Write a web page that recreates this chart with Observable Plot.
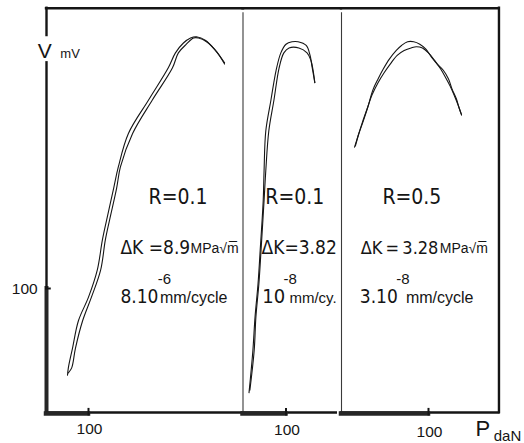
<!DOCTYPE html>
<html>
<head>
<meta charset="utf-8">
<script src="https://cdn.jsdelivr.net/npm/d3@7"></script>
<script src="https://cdn.jsdelivr.net/npm/@observablehq/plot@0.6"></script>
<style>
  html, body { margin: 0; padding: 0; background: #fff; }
  #chart { position: relative; width: 524px; height: 443px; overflow: hidden; background: #fff; }
  #chart svg { position: absolute; left: 0; top: 0; }
</style>
</head>
<body>
<div id="chart"></div>
<script>
// ---------- texts ----------
const rValues = ["R=0.1", "R=0.1", "R=0.5"];
const deltaK = ["ΔK =8.9", "ΔK=3.82", "ΔK\u2009=\u20093.28"];
const kUnit = "MPa√m̅";
const rateMantissa = ["8.10", "10", "3.10"];
const rateExponent = ["-6", "-8", "-8"];
const rateUnit = ["mm/cycle", "mm/cy.", "mm/cycle"];
const xTicks = [100];      // daN
const yTicks = [100];      // mV
const xLabel = "P", xUnit = "daN";
const yLabel = "V", yUnit = "mV";

// ---------- curves: [P (daN), V (mV)] ----------
const p1Loading = [[50,30],[52,36],[62,52],[76,74],[100,93],[121,115],[133,139],[143,155],[160,181],[171,198],[195,225],[243,252],[290,278],[307,290],[326,298],[343,302],[357,303],[379,300],[402,292],[424,282]];
const p1Unloading = [[52,32],[60,36],[69,52],[86,74],[107,93],[129,115],[140,139],[150,155],[167,181],[176,198],[205,225],[252,252],[300,278],[314,290],[333,297],[350,302],[362,302],[381,299],[405,291],[424,281]];

const p2Loading = [[14,16],[23,50],[28,77],[35,104],[40,131],[47,171],[49,195],[53,227],[65,252],[77,276],[88,290],[100,297],[114,299],[128,299],[147,296],[156,288],[160,280],[167,266]];
const p2Unloading = [[16,18],[26,50],[30,77],[37,104],[42,131],[49,171],[53,195],[60,227],[72,252],[84,278],[95,290],[107,294],[130,294],[149,290],[158,284],[163,276],[167,266]];

const p3Loading = [[16,215],[20,225],[25,235],[31,248],[36,260],[42,269],[48,277],[55,285],[63,292],[69,296],[76,299],[83,299],[90,297],[97,293],[103,287],[110,281],[117,276],[123,269],[127,261],[132,253],[135,246],[138,240]];
const p3Unloading = [[15,214],[19,223],[24,234],[30,246],[35,256],[42,266],[49,274],[56,281],[64,288],[72,292],[80,294],[86,295],[93,294],[100,290],[107,284],[114,277],[119,271],[125,263],[130,255],[134,248],[138,240]];

// ---------- styling / layout ----------
const INK = "#151515";
const FONT = "'Liberation Sans', Arial, sans-serif";
const NARROW = "'DejaVu Sans Condensed', 'Liberation Sans', sans-serif";
const TOP = 326; // mV level of the upper frame line

function note(txt, P, V, size, font = NARROW, extra = {}) {
  return Plot.text([txt], {x: [P], y: [V], text: d => d, textAnchor: "start", lineAnchor: "bottom",
    fontSize: size, fontFamily: font, fill: INK, ...extra});
}
const vRule = (P, v1, v2, w, color = INK) =>
  Plot.ruleX([P], {y1: v1, y2: v2, stroke: color, strokeWidth: w, strokeLinecap: "square"});
const hRule = (V, p1, p2, w, extra = {}) =>
  Plot.ruleY([V], {x1: p1, x2: p2, stroke: INK, strokeWidth: w, strokeLinecap: "square", ...extra});
const loop = data => Plot.line(data, {x: d => d[0], y: d => d[1], stroke: INK, strokeWidth: 1.1, curve: "catmull-rom"});
const xTickLabels = (V) => Plot.text(xTicks, {x: d => d, y: () => V, text: d => String(d), lineAnchor: "bottom",
  fontSize: 15.5, fontFamily: FONT, fill: INK, dx: 1});

function panel(origin, px100, marks) {
  return Plot.plot({
    width: 524, height: 443,
    marginTop: 7, marginBottom: 31, marginLeft: origin, marginRight: 24,
    x: {domain: [0, 100], range: [origin, origin + px100], axis: null},
    y: {domain: [0, 100], range: [412, 288], axis: null},
    style: {background: "transparent", overflow: "visible"},
    marks
  });
}

const panel1 = panel(46, 42, [
  vRule(0, 0, 100, 4, "#262626"),
  vRule(0, 100, 282, 2.4),
  vRule(0, 304, TOP, 2.4),
  hRule(100, 0, 9, 2),
  hRule(0, 0, 464, 2.4),
  hRule(0, 0, 100, 4.5, {dy: 1, stroke: "#262626"}),
  vRule(100, -2, 2.5, 2),
  hRule(TOP, 0, 469, 2.4),
  loop(p1Loading), loop(p1Unloading),
  note(rValues[0], 243, 168, 21),
  note(deltaK[0], 176, 128, 19),
  note(kUnit, 343, 129, 14, FONT),
  note(rateMantissa[0], 176, 88, 19),
  note(rateExponent[0], 265, 103.5, 15, FONT),
  note(rateUnit[0], 270, 88, 16, FONT),
  note(yLabel, -21, 286, 21, FONT),
  note(yUnit, 33, 286, 13, FONT),
  Plot.text(yTicks, {x: () => -21, y: d => d, text: d => String(d), textAnchor: "end",
    fontSize: 15.5, fontFamily: FONT, fill: INK, dy: 1}),
  xTickLabels(-17)
]);

const panel2 = panel(242.5, 43, [
  vRule(0, -2, 322, 1.1, "#3a3a3a"),
  hRule(0, 0, 217, 2.4),
  hRule(0, 0, 100, 4.5, {dy: 1, stroke: "#262626"}),
  vRule(100, -2, 2.5, 2),
  hRule(TOP, 0, 229, 2.4),
  loop(p2Loading), loop(p2Unloading),
  note(rValues[1], 52, 168, 21),
  note(deltaK[1], 43, 128, 19),
  note(rateMantissa[1], 45, 88, 20),
  note(rateExponent[1], 94, 103.5, 15, FONT),
  note(rateUnit[1], 108, 88, 15, FONT),
  xTickLabels(-18.5)
]);

const panel3 = panel(341, 87, [
  vRule(0, -2, 322, 1.1, "#3a3a3a"),
  hRule(0, 0, 181, 2.4),
  hRule(0, 0, 100, 4.5, {dy: 1, stroke: "#262626"}),
  vRule(100, -2, 2.5, 2),
  hRule(TOP, 0, 181, 2.4),
  vRule(181, 0, TOP, 2.4),
  loop(p3Loading), loop(p3Unloading),
  note(rValues[2], 47, 168, 21),
  note(deltaK[2], 22, 128, 18),
  note(kUnit, 113, 129, 14, FONT),
  note(rateMantissa[2], 21, 88, 19),
  note(rateExponent[2], 63, 103.5, 15, FONT),
  note(rateUnit[2], 74, 88, 16, FONT),
  note(xLabel, 154, -19, 22, FONT),
  note(xUnit, 175, -23, 15, FONT),
  xTickLabels(-20)
]);

const chart = document.getElementById("chart");
chart.append(panel1, panel2, panel3);
</script>
</body>
</html>
